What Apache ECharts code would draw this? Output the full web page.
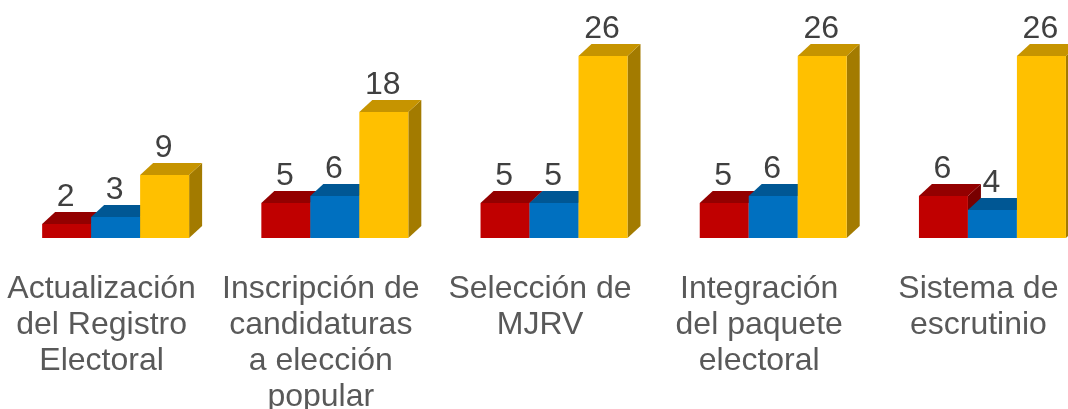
<!DOCTYPE html>
<html>
<head>
<meta charset="utf-8">
<script src="https://cdn.jsdelivr.net/npm/echarts@6/dist/echarts.min.js"></script>
<style>
html,body{margin:0;padding:0;background:#fff;}
#main{width:1068px;height:409px;}
</style>
</head>
<body>
<div id="main"></div>
<script>
var categories = [
  'Actualización\ndel Registro\nElectoral',
  'Inscripción de\ncandidaturas\na elección\npopular',
  'Selección de\nMJRV',
  'Integración\ndel paquete\nelectoral',
  'Sistema de\nescrutinio'
];
var seriesRed = [2, 5, 5, 5, 6];
var seriesBlue = [3, 6, 5, 6, 4];
var seriesYellow = [9, 18, 26, 26, 26];

var palettes = [
  { front: '#C00000', top: '#930000', side: '#780000' },
  { front: '#0070C0', top: '#005794', side: '#00497C' },
  { front: '#FFC000', top: '#C69400', side: '#A37B00' }
];

function makeRender(sIdx) {
  var pal = palettes[sIdx];
  return function (params, api) {
    var cat = api.value(0), val = api.value(1);
    var base = api.coord([cat, 0]);
    var top = api.coord([cat, val]);
    var band = api.size([1, 0])[0];
    var barW = band * 0.2235;
    var shift = band * 0.064;
    var dx = 13, dy = 12;
    var x0 = base[0] + shift + (sIdx - 1.5) * barW;
    var x1 = x0 + barW;
    var yb = base[1], yt = top[1];
    return {
      type: 'group',
      children: [
        { type: 'polygon', shape: { points: [[x1, yb], [x1 + dx, yb - dy], [x1 + dx, yt - dy], [x1, yt]] }, style: { fill: pal.side } },
        { type: 'polygon', shape: { points: [[x0, yt], [x0 + dx, yt - dy], [x1 + dx, yt - dy], [x1, yt]] }, style: { fill: pal.top } },
        { type: 'rect', shape: { x: x0, y: yt, width: barW, height: yb - yt }, style: { fill: pal.front } },
        { type: 'text', style: { text: String(val), x: (x0 + x1) / 2 - 1, y: yt - dy + 1, align: 'center', verticalAlign: 'bottom', fill: '#404040', font: '32px "Liberation Sans", Arial, sans-serif' } }
      ]
    };
  };
}

function toData(arr) { return arr.map(function (v, i) { return [i, v]; }); }

var chart = echarts.init(document.getElementById('main'), null, { renderer: 'canvas' });
chart.setOption({
  animation: false,
  backgroundColor: '#ffffff',
  grid: { left: -8, width: 1096, top: 28, height: 210, containLabel: false, outerBoundsMode: 'none' },
  xAxis: {
    type: 'category',
    data: categories,
    axisLine: { show: false },
    axisTick: { show: false },
    axisLabel: {
      interval: 0,
      margin: 33,
      fontSize: 32,
      lineHeight: 36,
      color: '#595959',
      hideOverlap: false,
      fontFamily: '"Liberation Sans", Arial, sans-serif'
    }
  },
  yAxis: { type: 'value', min: 0, max: 30, show: false, splitLine: { show: false } },
  series: [
    { type: 'custom', renderItem: makeRender(0), data: toData(seriesRed), clip: false },
    { type: 'custom', renderItem: makeRender(1), data: toData(seriesBlue), clip: false },
    { type: 'custom', renderItem: makeRender(2), data: toData(seriesYellow), clip: false }
  ]
});
</script>
</body>
</html>
